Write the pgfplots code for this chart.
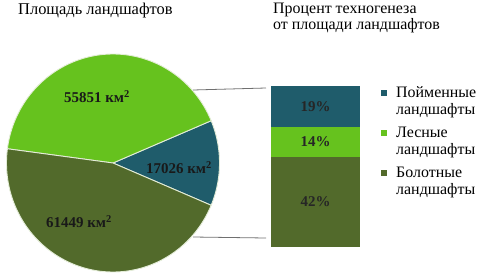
\documentclass[border=0pt]{standalone}
\usepackage{pgfplots}
\pgfplotsset{compat=1.18}
\usepackage{fontspec}
\setmainfont{Liberation Serif}
\definecolor{cTeal}{HTML}{1F5C6B}
\definecolor{cLight}{HTML}{66C21E}
\definecolor{cOlive}{HTML}{526A2B}
\definecolor{cEdge}{HTML}{E4EDD8}
\definecolor{cLine}{HTML}{707070}
\begin{document}
\begin{tikzpicture}[x=1bp,y=1bp]
\useasboundingbox (0,0) rectangle (479,278);
% pie data (km^2)
\def\vP{17026}\def\vL{55851}\def\vB{61449}
\edef\sP{\fpeval{-180*\vP/(\vP+\vL+\vB)}}
\edef\eP{\fpeval{180*\vP/(\vP+\vL+\vB)}}
\edef\eL{\fpeval{\eP+360*\vL/(\vP+\vL+\vB)}}
\edef\eB{\fpeval{360+\sP}}
\begin{axis}[at={(113bp,115bp)}, anchor=center, width=213bp, height=218bp,
  scale only axis, hide axis, xmin=-1, xmax=1, ymin=-1, ymax=1, clip=false]
\addplot[draw=cEdge, line width=0.9pt, fill=cTeal, domain=\sP:\eP, samples=40, variable=\t]
  ({cos(\t)},{sin(\t)}) -- (0,0) -- cycle;
\addplot[draw=cEdge, line width=0.9pt, fill=cLight, domain=\eP:\eL, samples=100, variable=\t]
  ({cos(\t)},{sin(\t)}) -- (0,0) -- cycle;
\addplot[draw=cEdge, line width=0.9pt, fill=cOlive, domain=\eL:\eB, samples=100, variable=\t]
  ({cos(\t)},{sin(\t)}) -- (0,0) -- cycle;
\end{axis}
% connector lines
\draw[cLine, line width=0.8pt] (193,188) -- (266,190);
\draw[cLine, line width=0.8pt] (193,41) -- (266,40);
% stacked bar
\begin{axis}[at={(271bp,31bp)}, anchor=south west, width=89bp, height=161bp,
  scale only axis, hide axis, ybar stacked, bar width=89bp,
  xmin=-0.5, xmax=0.5, ymin=0, ymax=75, clip=false,
  reverse legend,
  legend image code/.code={\fill[#1] (0bp,5bp) rectangle (6bp,11bp);},
  legend style={draw=none, fill=none, at={(1.236,1.01)}, anchor=north west,
    inner sep=0pt, row sep=7bp, column sep=7bp,
    font=\fontsize{16}{17}\selectfont,
    cells={anchor=west, align=left}}]
\addplot[fill=cOlive, draw=none] coordinates {(0,42)};
\addplot[fill=cLight, draw=none] coordinates {(0,14)};
\addplot[fill=cTeal, draw=none] coordinates {(0,19)};
\legend{Болотные\\ландшафты, Лесные\\ландшафты, Пойменные\\ландшафты}
\end{axis}
% bar labels
\begin{scope}[every node/.style={font=\bfseries\fontsize{15}{15}\selectfont, inner sep=0pt, text=black!85}]
\node at (315.5,76) {42\%};
\node at (315.5,136) {14\%};
\node at (315.5,171.5) {19\%};
\end{scope}
% pie labels
\begin{scope}[every node/.style={font=\bfseries\fontsize{15}{15}\selectfont, inner sep=0pt, text=black!90}]
\node at (97,181) {55851 км\textsuperscript{2}};
\node at (179,110) {17026 км\textsuperscript{2}};
\node at (79,56) {61449 км\textsuperscript{2}};
\end{scope}
% titles
\node[anchor=base west, inner sep=0pt, font=\fontsize{16.5}{18}\selectfont] at (18,264) {Площадь ландшафтов};
\node[anchor=base west, inner sep=0pt, font=\fontsize{16}{18}\selectfont] at (273,265) {Процент техногенеза};
\node[anchor=base west, inner sep=0pt, font=\fontsize{16}{18}\selectfont] at (273,249) {от площади ландшафтов};
\end{tikzpicture}
\end{document}
